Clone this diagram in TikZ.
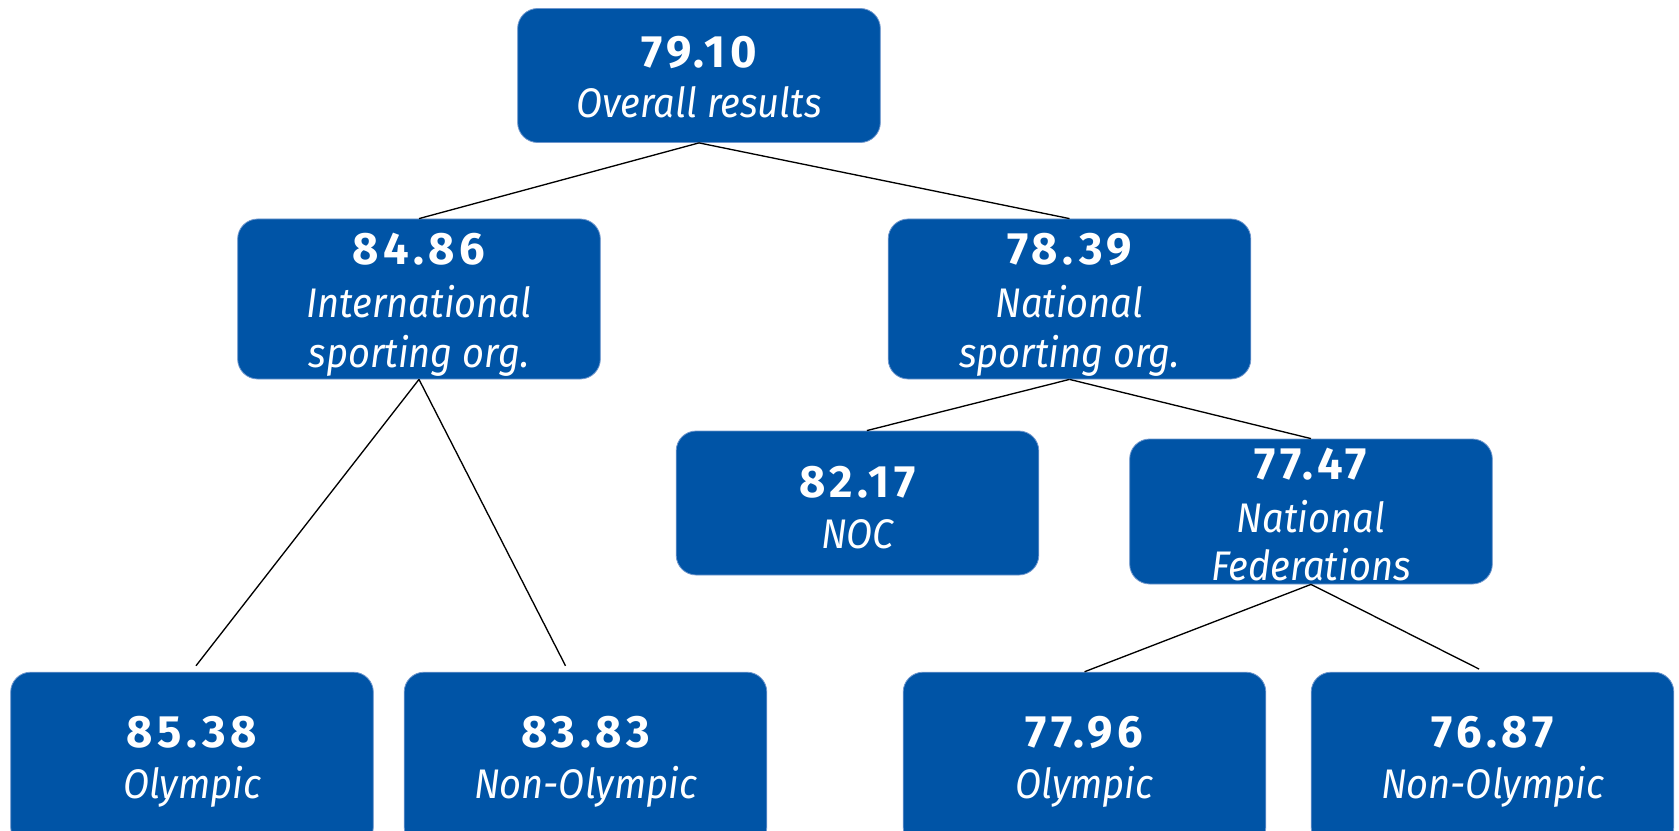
\documentclass[tikz,border=0pt]{standalone}
\usepackage{fontspec}
\newfontfamily\numfont[LetterSpace=10]{Fira Sans}
\newfontfamily\labfont[FakeStretch=0.92]{Fira Sans}
\definecolor{boxblue}{RGB}{0,84,166}
\definecolor{edgeblue}{RGB}{110,150,205}
\tikzset{
  box/.style={draw=edgeblue, line width=0.6pt, fill=boxblue, rounded corners=15pt,
    minimum width=272pt, inner sep=0pt},
  num/.style={text=white, font=\numfont\bfseries\fontsize{34}{40}\selectfont, anchor=base, inner sep=0pt},
  lab/.style={text=white, font=\labfont\itshape\fontsize{31}{38}\selectfont, anchor=base, inner sep=0pt},
  link/.style={draw=black, line width=1pt}
}
\begin{document}
\begin{tikzpicture}[x=0.75pt,y=-0.75pt]
\useasboundingbox (0,0) rectangle (1679,831);
\clip (0,0) rectangle (1679,831);
% boxes
\node[box, minimum height=100.5pt] (top) at (699,75.5) {};
\node[box, minimum height=120pt] (intl) at (419,299) {};
\node[box, minimum height=120pt] (nat) at (1069.5,299) {};
\node[box, minimum height=108pt] (noc) at (857.5,503) {};
\node[box, minimum height=108.75pt] (nf) at (1311,511.5) {};
\node[box, minimum height=131pt] (o1) at (192,759.5) {};
\node[box, minimum height=131pt] (n1) at (585.5,759.5) {};
\node[box, minimum height=131pt] (o2) at (1084.5,759.5) {};
\node[box, minimum height=131pt] (n2) at (1492.5,759.5) {};
% connectors
\draw[link] (top.south) -- (intl.north);
\draw[link] (top.south) -- (nat.north);
\draw[link] (intl.south) -- ([xshift=3pt,yshift=4.5pt]o1.north);
\draw[link] (intl.south) -- ([xshift=-15pt,yshift=4.5pt]n1.north);
\draw[link] (nat.south) -- ([xshift=7pt]noc.north);
\draw[link] (nat.south) -- (nf.north);
\draw[link] (nf.south) -- (o2.north);
\draw[link] (nf.south) -- ([xshift=-10pt,yshift=2pt]n2.north);
% texts
\node[num] (topn) at (699,68) {79.10};
\node[lab] (topl) at (699,118) {Overall results};
\node[num] (intln) at (419,265) {84.86};
\node[lab] (intll1) at (419,317) {International};
\node[lab] (intll2) at (419,367) {sporting org.};
\node[num] (natn) at (1069.5,265) {78.39};
\node[lab] (natl1) at (1069.5,317) {National};
\node[lab] (natl2) at (1069.5,367) {sporting org.};
\node[num] (nocn) at (857.5,497) {82.17};
\node[lab] (nocl) at (857.5,548) {NOC};
\node[num] (nfn) at (1311,479) {77.47};
\node[lab] (nfl1) at (1311,532) {National};
\node[lab] (nfl2) at (1311,580) {Federations};
\node[num] (o1n) at (192,747) {85.38};
\node[lab] (o1l) at (192,798) {Olympic};
\node[num] (n1n) at (585.5,747) {83.83};
\node[lab] (n1l) at (585.5,798) {Non-Olympic};
\node[num] (o2n) at (1084.5,747) {77.96};
\node[lab] (o2l) at (1084.5,798) {Olympic};
\node[num] (n2n) at (1492.5,747) {76.87};
\node[lab] (n2l) at (1492.5,798) {Non-Olympic};
\end{tikzpicture}
\end{document}
